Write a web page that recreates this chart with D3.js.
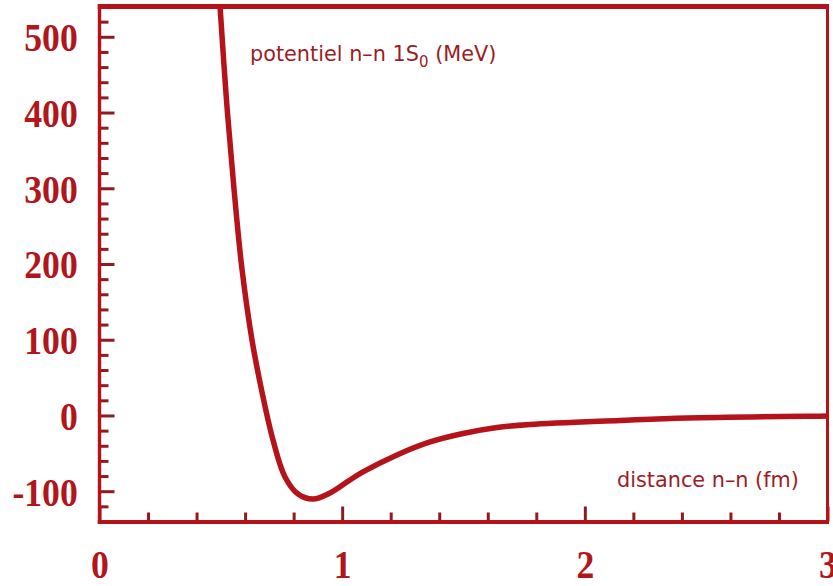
<!DOCTYPE html>
<html>
<head>
<meta charset="utf-8">
<script src="https://cdn.jsdelivr.net/npm/d3@7/dist/d3.min.js"></script>
<style>
  html, body { margin: 0; padding: 0; background: #fff; }
  svg { display: block; }
</style>
</head>
<body>
<script>
// Data: distance r (fm) and potential V (MeV)
var distance = [0.4966, 0.5233, 0.5543, 0.5852, 0.6284, 0.6696, 0.715, 0.7645, 0.818, 0.8798,
                0.9499, 1.0323, 1.0858, 1.2259, 1.362, 1.498, 1.638, 1.774, 2.1449, 2.421,
                2.969, 3.0];
var potential = [540.7, 416.5, 299.0, 198.7, 99.7, 31.0, -32.4, -81.2, -103.7, -110.3,
                 -102.4, -85.2, -74.6, -52.2, -35.0, -23.8, -15.9, -11.9, -6.6, -3.3,
                 -0.9, -0.8];

var yMajor = [-100, 0, 100, 200, 300, 400, 500];
var xMajor = [0, 1, 2, 3];

var w = 833, h = 586;
var red = "#b5121a", tickRed = "#8f1a1f", labelRed = "#b0161b", textRed = "#9c1c25";

var svg = d3.select("body").append("svg")
    .attr("width", w)
    .attr("height", h);

// Scales
var x = d3.scaleLinear().domain([0, 3]).range([99.5, 827.5]);
var y = d3.scaleLinear().domain([-140, 540]).range([521.5, 6.5]);

// Minor tick values
var yMinor = d3.range(-120, 540, 20).filter(function(v) { return v % 100 !== 0; });
var xMinor = d3.range(0.2, 3, 0.2).filter(function(v) { return Math.abs(v - Math.round(v)) > 0.01; });

// Clip for the curve
svg.append("clipPath").attr("id", "plot")
  .append("rect")
    .attr("x", x(0)).attr("y", y(540))
    .attr("width", x(3) - x(0)).attr("height", y(-140) - y(540));

// Curve
var line = d3.line()
    .x(function(d, i) { return x(distance[i]); })
    .y(function(d) { return y(d); })
    .curve(d3.curveCatmullRom.alpha(0.5));

svg.append("path")
    .datum(potential)
    .attr("clip-path", "url(#plot)")
    .attr("d", line)
    .style("fill", "none")
    .style("stroke", red)
    .style("stroke-width", 5.5)
    .style("stroke-linejoin", "round");

// Y axis: minor then major ticks (pointing inward)
svg.append("g")
    .attr("transform", "translate(" + x(0) + ",0)")
    .call(d3.axisLeft(y).tickValues(yMinor).tickSize(-9).tickFormat(""));

var yAxis = svg.append("g")
    .attr("transform", "translate(" + x(0) + ",0)")
    .call(d3.axisLeft(y).tickValues(yMajor).tickSize(-15).tickPadding(25)
        .tickFormat(function(d) { return String(d); }));

// X axis
svg.append("g")
    .attr("transform", "translate(0," + y(-140) + ")")
    .call(d3.axisBottom(x).tickValues(xMinor).tickSize(-9).tickFormat(""));

var xAxis = svg.append("g")
    .attr("transform", "translate(0," + y(-140) + ")")
    .call(d3.axisBottom(x).tickValues(xMajor).tickSize(-15)
        .tickFormat(function(d) { return String(d); }));

svg.selectAll(".domain").remove();
svg.selectAll(".tick line")
    .style("stroke", tickRed)
    .style("stroke-width", 3);

svg.selectAll(".tick text")
    .style("font-family", "'Liberation Serif', 'Times New Roman', serif")
    .style("font-weight", "bold")
    .style("font-size", "41px")
    .style("fill", labelRed);

yAxis.selectAll(".tick text")
    .attr("dy", "0.34em")
    .attr("transform", "scale(0.87,1)");

xAxis.selectAll(".tick text")
    .attr("y", 57)
    .attr("dy", 0)
    .attr("transform", "scale(0.87,1)");

// Frame
svg.append("line").attr("x1", 97.8).attr("x2", 829).attr("y1", 6.5).attr("y2", 6.5)
    .style("stroke", red).style("stroke-width", 5);
svg.append("line").attr("x1", 99.5).attr("x2", 99.5).attr("y1", 4).attr("y2", 524)
    .style("stroke", red).style("stroke-width", 3.4);
svg.append("line").attr("x1", 97.8).attr("x2", 829).attr("y1", 522).attr("y2", 522)
    .style("stroke", red).style("stroke-width", 4);
svg.append("line").attr("x1", 827.5).attr("x2", 827.5).attr("y1", 4).attr("y2", 524)
    .style("stroke", red).style("stroke-width", 3);

// Texts
var title = svg.append("text")
    .attr("x", 250)
    .attr("y", 61)
    .style("font-family", "'DejaVu Sans', sans-serif")
    .style("font-size", "20.8px")
    .style("fill", textRed);
title.append("tspan").text("potentiel n–n 1S");
title.append("tspan").attr("dy", 6).style("font-size", "15px").text("0");
title.append("tspan").attr("dy", -6).text(" (MeV)");

svg.append("text")
    .attr("x", 617)
    .attr("y", 487)
    .style("font-family", "'DejaVu Sans', sans-serif")
    .style("font-size", "20.8px")
    .style("fill", textRed)
    .text("distance n–n (fm)");
</script>
</body>
</html>
